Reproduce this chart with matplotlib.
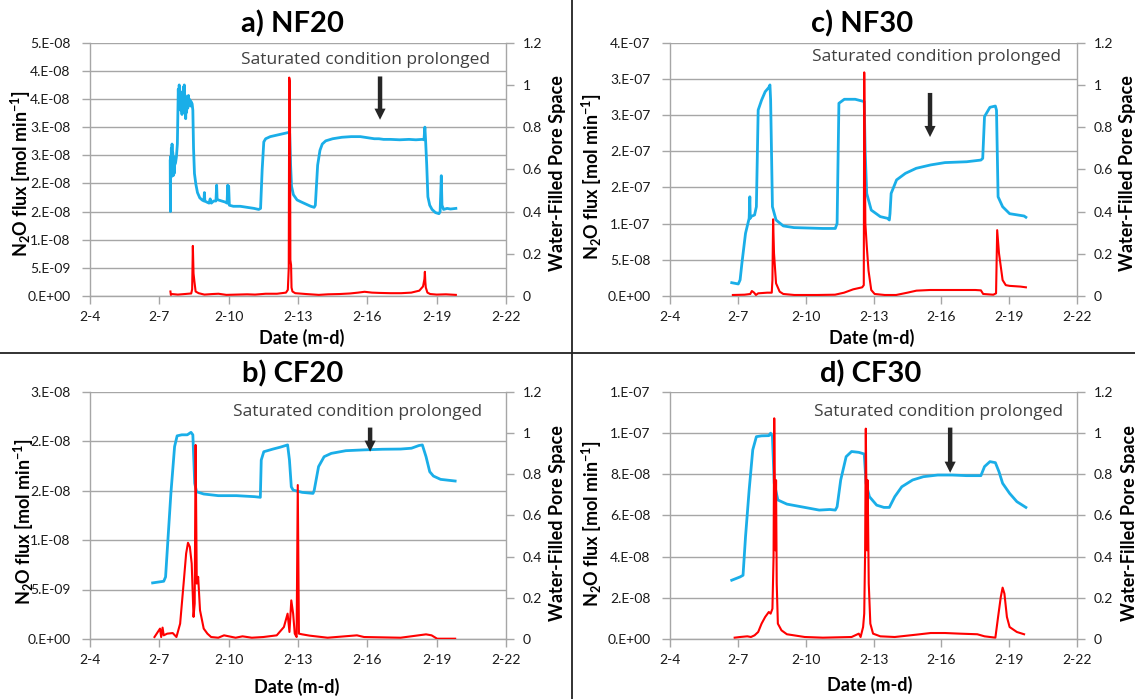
import matplotlib
matplotlib.use("Agg")
import matplotlib.pyplot as plt

plt.rcParams['font.family'] = ['Lato', 'DejaVu Sans']
plt.rcParams['mathtext.fontset'] = 'custom'
plt.rcParams['mathtext.rm'] = 'Lato:bold'
plt.rcParams['mathtext.bf'] = 'Lato:bold'
plt.rcParams['mathtext.it'] = 'Lato:bold:italic'

# ---------------- data (x = day of February) ----------------
date_ticks = [4, 7, 10, 13, 16, 19, 22]
date_labels = ['2-4', '2-7', '2-10', '2-13', '2-16', '2-19', '2-22']
wfps_ticks = [0, 0.2, 0.4, 0.6, 0.8, 1.0, 1.2]
wfps_labels = ['0', '0.2', '0.4', '0.6', '0.8', '1', '1.2']

# a) NF20
nf20_flux_labels = ['0.E+00', '5.E-09', '1.E-08', '2.E-08', '2.E-08',
                    '3.E-08', '3.E-08', '4.E-08', '4.E-08', '5.E-08']
nf20_flux_step = 5e-9
nf20_w_day = [7.47, 7.48, 7.49, 7.50, 7.52, 7.53, 7.55, 7.57, 7.58, 7.60, 7.62, 7.64,
              7.66, 7.70, 7.74, 7.78, 7.80, 7.82, 7.84, 7.86, 7.88, 7.90, 7.92, 7.94,
              7.96, 7.98, 8.00, 8.02, 8.04, 8.06, 8.08, 8.10, 8.12, 8.14, 8.16, 8.18,
              8.20, 8.23, 8.26, 8.29, 8.32, 8.35, 8.38, 8.42, 8.45, 8.48, 8.52, 8.58,
              8.65, 8.75, 8.85, 8.93, 8.95, 8.97, 9.05, 9.15, 9.20, 9.25, 9.35, 9.45,
              9.48, 9.50, 9.55, 9.70, 9.85, 9.93, 9.96, 9.98, 10.00, 10.03, 10.20,
              10.50, 10.80, 11.10, 11.30, 11.38, 11.45, 11.52, 11.60, 11.80, 12.00,
              12.20, 12.40, 12.60, 12.64, 12.68, 12.72, 12.80, 12.96, 13.15, 13.35,
              13.55, 13.70, 13.75, 13.85, 13.95, 14.05, 14.20, 14.50, 14.90, 15.30,
              15.70, 16.00, 16.30, 16.50, 16.70, 17.00, 17.40, 17.80, 18.10, 18.38,
              18.45, 18.49, 18.52, 18.57, 18.62, 18.70, 18.80, 18.95, 19.10, 19.15,
              19.20, 19.23, 19.30, 19.45, 19.60, 19.83]
nf20_wfps = [0.64, 0.40, 0.66, 0.56, 0.70, 0.58, 0.72, 0.60, 0.68, 0.57, 0.66, 0.58,
             0.62, 0.63, 0.66, 0.72, 0.85, 0.98, 0.90, 1.00, 0.92, 0.97, 0.88, 0.95,
             0.90, 0.86, 0.93, 0.88, 0.99, 0.87, 1.00, 0.90, 0.95, 0.84, 0.92, 0.87,
             0.94, 0.89, 0.95, 0.91, 0.93, 0.90, 0.92, 0.91, 0.88, 0.70, 0.58, 0.53,
             0.49, 0.465, 0.455, 0.45, 0.49, 0.45, 0.445, 0.44, 0.46, 0.44, 0.45, 0.45,
             0.525, 0.46, 0.455, 0.45, 0.445, 0.44, 0.525, 0.44, 0.52, 0.43, 0.425,
             0.425, 0.42, 0.415, 0.41, 0.415, 0.60, 0.73, 0.745, 0.755, 0.76,
             0.765, 0.77, 0.775, 0.77, 0.62, 0.52, 0.48, 0.455, 0.445, 0.435,
             0.425, 0.42, 0.43, 0.62, 0.69, 0.72, 0.735, 0.745, 0.752, 0.755,
             0.755, 0.75, 0.745, 0.745, 0.742, 0.742, 0.74, 0.742, 0.74, 0.742,
             0.74, 0.80, 0.74, 0.62, 0.47, 0.43, 0.41, 0.395, 0.39, 0.40,
             0.57, 0.43, 0.41, 0.415, 0.412, 0.415]
nf20_f_day = [7.48, 7.50, 7.53, 7.80, 8.10, 8.38, 8.42, 8.45, 8.48, 8.52, 8.57, 8.70,
              8.95, 9.30, 9.56, 9.90, 10.35, 10.80, 11.14, 11.60, 12.09, 12.48, 12.56,
              12.60, 12.62, 12.65, 12.67, 12.70, 12.72, 12.76, 12.88, 13.35, 13.90,
              14.30, 14.80, 15.25, 15.60, 15.88, 16.20, 16.51, 17.00, 17.46, 17.90,
              18.25, 18.41, 18.47, 18.49, 18.51, 18.53, 18.60, 18.72, 19.00, 19.40, 19.83]
nf20_flux = [0.8e-9, 0.2e-9, 0.35e-9, 0.25e-9, 0.35e-9, 0.45e-9, 1.2e-9, 8.9e-9,
             4.0e-9, 2.5e-9, 0.8e-9, 0.5e-9, 0.25e-9, 0.35e-9, 0.4e-9, 0.2e-9,
             0.25e-9, 0.3e-9, 0.25e-9, 0.4e-9, 0.4e-9, 0.6e-9, 1.1e-9, 5.0e-9,
             38.8e-9, 38.0e-9, 6.4e-9, 5.5e-9, 1.5e-9, 0.8e-9, 0.5e-9, 0.35e-9,
             0.2e-9, 0.3e-9, 0.35e-9, 0.45e-9, 0.6e-9, 0.75e-9, 0.6e-9, 0.55e-9,
             0.5e-9, 0.5e-9, 0.6e-9, 0.95e-9, 1.7e-9, 3.0e-9, 4.3e-9, 2.5e-9,
             1.5e-9, 0.6e-9, 0.35e-9, 0.25e-9, 0.3e-9, 0.2e-9]

# b) CF20
cf20_flux_labels = ['0.E+00', '5.E-09', '1.E-08', '2.E-08', '2.E-08', '3.E-08']
cf20_flux_step = 5e-9
cf20_w_day = [6.71, 7.19, 7.27, 7.38, 7.50, 7.66, 7.77, 7.97, 8.21, 8.37, 8.45, 8.53,
              8.61, 8.92, 9.55, 10.34, 11.13, 11.37, 11.41, 11.52, 11.92, 12.23, 12.55,
              12.63, 12.71, 12.79, 13.18, 13.65, 13.70, 13.89, 14.13, 14.44, 15.07,
              15.86, 16.65, 17.44, 17.91, 18.23, 18.38, 18.54, 18.70, 18.86, 19.17, 19.80]
cf20_wfps = [0.272, 0.280, 0.301, 0.496, 0.706, 0.933, 0.985, 0.99, 0.99, 1.002, 0.99,
             0.755, 0.714, 0.703, 0.695, 0.695, 0.69, 0.687, 0.868, 0.908, 0.921, 0.93,
             0.941, 0.868, 0.738, 0.722, 0.711, 0.706, 0.72, 0.836, 0.884, 0.90, 0.913,
             0.917, 0.92, 0.921, 0.925, 0.938, 0.941, 0.884, 0.811, 0.79, 0.774, 0.766]
cf20_f_day = [6.79, 7.03, 7.08, 7.14, 7.19, 7.34, 7.58, 7.74, 7.90, 8.05, 8.16, 8.24,
              8.32, 8.40, 8.48, 8.53, 8.57, 8.62, 8.68, 8.76, 8.92, 9.08, 9.24, 9.55,
              9.80, 10.30, 10.60, 11.00, 11.50, 12.08, 12.39, 12.55, 12.63, 12.71,
              12.79, 12.86, 12.94, 12.99, 13.04, 13.18, 13.50, 14.28, 15.55, 15.86,
              17.44, 18.54, 18.78, 19.02, 19.80]
cf20_flux = [0.2e-9, 1.05e-9, 0.2e-9, 1.15e-9, 0.37e-9, 0.54e-9, 0.6e-9, 0.2e-9,
             1.55e-9, 5.6e-9, 8.64e-9, 9.72e-9, 9.31e-9, 7.63e-9, 2.23e-9, 3.58e-9,
             19.6e-9, 5.6e-9, 6.28e-9, 2.9e-9, 1.05e-9, 0.54e-9, 0.2e-9, 0.13e-9,
             0.37e-9, 0.13e-9, 0.27e-9, 0.13e-9, 0.2e-9, 0.37e-9, 1.21e-9, 2.56e-9,
             0.71e-9, 3.9e-9, 2.56e-9, 0.54e-9, 0.2e-9, 15.55e-9, 0.54e-9, 0.47e-9,
             0.34e-9, 0.13e-9, 0.37e-9, 0.2e-9, 0.13e-9, 0.47e-9, 0.37e-9, 0.03e-9,
             0.03e-9]

# c) NF30
nf30_flux_labels = ['0.E+00', '5.E-08', '1.E-07', '2.E-07', '2.E-07',
                    '3.E-07', '3.E-07', '4.E-07']
nf30_flux_step = 5e-8
nf30_w_day = [6.73, 7.02, 7.10, 7.18, 7.34, 7.50, 7.53, 7.55, 7.58, 7.74, 7.82, 7.90,
              8.05, 8.21, 8.37, 8.42, 8.45, 8.53, 8.69, 9.01, 9.48, 10.76, 11.31, 11.39,
              11.47, 11.71, 12.19, 12.59, 12.63, 12.70, 12.90, 13.30, 13.62, 13.70,
              13.73, 13.78, 14.02, 14.41, 14.89, 15.53, 16.16, 17.12, 17.75, 17.83,
              17.91, 18.15, 18.39, 18.44, 18.51, 18.71, 19.02, 19.66, 19.74]
nf30_wfps = [0.063, 0.057, 0.076, 0.155, 0.297, 0.368, 0.47, 0.368, 0.376, 0.384,
             0.423, 0.881, 0.928, 0.968, 0.988, 1.0, 0.93, 0.423, 0.36, 0.332, 0.324,
             0.32, 0.32, 0.344, 0.913, 0.932, 0.932, 0.921, 0.69, 0.486, 0.407, 0.376,
             0.368, 0.36, 0.39, 0.486, 0.55, 0.581, 0.605, 0.621, 0.632, 0.636, 0.644,
             0.652, 0.85, 0.894, 0.90, 0.88, 0.47, 0.423, 0.39, 0.379, 0.373]
nf30_f_day = [6.78, 7.30, 7.55, 7.62, 7.72, 7.80, 7.90, 8.30, 8.50, 8.53, 8.56, 8.60,
              8.69, 8.85, 9.01, 9.50, 10.50, 11.30, 11.70, 12.10, 12.50, 12.57, 12.59,
              12.61, 12.64, 12.70, 12.78, 12.90, 13.05, 13.50, 14.00, 14.50, 14.90,
              15.50, 16.50, 17.50, 17.75, 17.85, 18.30, 18.42, 18.47, 18.55, 18.71,
              18.85, 19.02, 19.50, 19.74]
nf30_flux = [1.4e-9, 1.8e-9, 2.8e-9, 6.9e-9, 4.6e-9, 1.4e-9, 3.7e-9, 4.6e-9, 4.6e-9,
             2.2e-8, 1.06e-7, 5.9e-8, 1.75e-8, 6e-9, 2.8e-9, 1.4e-9, 1.4e-9, 1.8e-9,
             4.6e-9, 9.2e-9, 1.2e-8, 1.5e-8, 3.09e-7, 2.2e-7, 1.0e-7, 7.0e-8, 3.5e-8,
             8.3e-9, 2.8e-9, 1.4e-9, 1.4e-9, 4.6e-9, 7.4e-9, 8.3e-9, 8.3e-9, 8.3e-9,
             7.8e-9, 2.8e-9, 1.8e-9, 3.7e-9, 9.1e-8, 5.9e-8, 2.2e-8, 1.5e-8, 1.4e-8,
             1.3e-8, 1.2e-8]

# d) CF30
cf30_flux_labels = ['0.E+00', '2.E-08', '4.E-08', '6.E-08', '8.E-08', '1.E-07', '1.E-07']
cf30_flux_step = 2e-8
cf30_w_day = [6.73, 7.10, 7.23, 7.34, 7.50, 7.66, 7.82, 8.05, 8.37, 8.45, 8.53, 8.61,
              8.77, 9.17, 9.96, 10.60, 11.07, 11.31, 11.39, 11.55, 11.79, 12.03, 12.35,
              12.59, 12.67, 12.82, 13.14, 13.46, 13.70, 13.94, 14.25, 14.73, 15.21,
              15.84, 16.48, 17.12, 17.75, 17.91, 18.15, 18.39, 18.55, 18.71, 19.02,
              19.34, 19.74]
cf30_wfps = [0.285, 0.301, 0.309, 0.496, 0.722, 0.917, 0.981, 0.985, 0.986, 0.998,
             0.981, 0.755, 0.674, 0.654, 0.638, 0.625, 0.628, 0.625, 0.641, 0.771,
             0.884, 0.909, 0.905, 0.897, 0.755, 0.69, 0.649, 0.638, 0.638, 0.69,
             0.738, 0.771, 0.787, 0.795, 0.795, 0.792, 0.792, 0.836, 0.86, 0.855,
             0.811, 0.755, 0.706, 0.666, 0.638]
cf30_f_day = [6.86, 7.10, 7.42, 7.58, 7.74, 7.90, 8.05, 8.21, 8.37, 8.45, 8.53, 8.58,
              8.61, 8.66, 8.69, 8.72, 8.77, 8.93, 9.17, 9.96, 10.76, 12.03, 12.35,
              12.43, 12.54, 12.59, 12.63, 12.66, 12.71, 12.74, 12.79, 12.86, 12.98,
              13.30, 13.94, 14.89, 15.53, 16.16, 16.80, 17.59, 17.91, 18.39, 18.51,
              18.63, 18.71, 18.79, 18.90, 19.02, 19.34, 19.66]
cf30_flux = [0.65e-9, 0.97e-9, 1.3e-9, 0.97e-9, 1.78e-9, 3.4e-9, 7.45e-9, 1.07e-8,
             1.31e-8, 1.23e-8, 1.47e-8, 3.98e-8, 1.07e-7, 4.3e-8, 7.7e-8, 2.69e-8,
             7.45e-9, 4.2e-9, 2.3e-9, 0.97e-9, 0.65e-9, 0.97e-9, 2.6e-9, 0.97e-9,
             5.8e-9, 1.23e-8, 4.3e-8, 1.02e-7, 4.3e-8, 7.7e-8, 2.69e-8, 7.45e-9,
             2.6e-9, 1.3e-9, 0.97e-9, 2.1e-9, 2.9e-9, 2.9e-9, 2.6e-9, 2.3e-9, 1.3e-9,
             0.65e-9, 1.07e-8, 2.04e-8, 2.49e-8, 2.2e-8, 1.07e-8, 5.8e-9, 3.4e-9,
             2.3e-9]

# ---------------- drawing ----------------
W, H = 1135, 699
fig = plt.figure(figsize=(W / 100, H / 100), dpi=100)

GRID = '#a6a6a6'
BLUE = '#1aaee8'
RED = '#ff0000'
TXT = '#1a1a1a'

panels = [
    dict(title='a) NF20', box=(90, 42.7, 506, 296),
         fday=nf20_f_day, flux=nf20_flux, wday=nf20_w_day, wfps=nf20_wfps,
         flabels=nf20_flux_labels, fstep=nf20_flux_step,
         title_xy=(292, 24), ylab_xy=(21, 174), rlab_xy=(558, 173), xlab_xy=(302, 338),
         note=(21.3, 1.12), arrow=(16.55, 1.04, 0.835)),
    dict(title='c) NF30', box=(670, 42.7, 1077, 296),
         fday=nf30_f_day, flux=nf30_flux, wday=nf30_w_day, wfps=nf30_wfps,
         flabels=nf30_flux_labels, fstep=nf30_flux_step,
         title_xy=(862, 24), ylab_xy=(592, 177), rlab_xy=(1128, 173), xlab_xy=(872, 338),
         note=(21.3, 1.133), arrow=(15.5, 0.962, 0.753)),
    dict(title='b) CF20', box=(90, 391.5, 506, 639),
         fday=cf20_f_day, flux=cf20_flux, wday=cf20_w_day, wfps=cf20_wfps,
         flabels=cf20_flux_labels, fstep=cf20_flux_step,
         title_xy=(293, 374), ylab_xy=(24, 522), rlab_xy=(558, 523), xlab_xy=(297, 687),
         note=(20.97, 1.10), arrow=(16.12, 1.025, 0.908)),
    dict(title='d) CF30', box=(670, 391.5, 1077, 639),
         fday=cf30_f_day, flux=cf30_flux, wday=cf30_w_day, wfps=cf30_wfps,
         flabels=cf30_flux_labels, fstep=cf30_flux_step,
         title_xy=(871, 374), ylab_xy=(592, 524), rlab_xy=(1130, 523), xlab_xy=(870, 685),
         note=(21.39, 1.10), arrow=(16.39, 1.025, 0.806)),
]


def fx(px):
    return px / W


def fy(py):
    return 1 - py / H


for p in panels:
    l, t, r, b = p['box']
    ax = fig.add_axes([fx(l), fy(b), (r - l) / W, (b - t) / H])
    ymax = p['fstep'] * (len(p['flabels']) - 1)
    fticks = [i * p['fstep'] for i in range(len(p['flabels']))]

    # left axis: N2O flux scale + gridlines
    ax.set_xlim(date_ticks[0], date_ticks[-1])
    ax.set_ylim(0, ymax)
    ax.set_yticks(fticks)
    ax.set_yticklabels(p['flabels'])
    ax.set_xticks(date_ticks)
    ax.set_xticklabels(date_labels)
    ax.grid(axis='y', color=GRID, lw=1.0)
    ax.set_axisbelow(True)
    for s in ['top', 'right']:
        ax.spines[s].set_visible(False)
    for s in ['left', 'bottom']:
        ax.spines[s].set_color(GRID)
        ax.spines[s].set_linewidth(1.0)
    ax.tick_params(axis='y', direction='out', length=6, width=1.0, color=GRID,
                   labelsize=10, labelcolor=TXT, pad=8)
    ax.tick_params(axis='x', direction='out', length=6, width=1.0, color=GRID,
                   labelsize=10, labelcolor=TXT, pad=5)

    # right axis: water-filled pore space
    ax2 = ax.twinx()
    ax2.set_ylim(0, 1.2)
    ax2.set_yticks(wfps_ticks)
    ax2.set_yticklabels(wfps_labels)
    for s in ['top', 'left', 'bottom']:
        ax2.spines[s].set_visible(False)
    ax2.spines['right'].set_color(GRID)
    ax2.spines['right'].set_linewidth(1.0)
    ax2.tick_params(axis='y', direction='out', length=6, width=1.0, color=GRID,
                    labelsize=10, labelcolor=TXT, pad=6)
    ax2.plot(p['wday'], p['wfps'], color=BLUE, lw=2.0, solid_joinstyle='round')

    # flux series drawn on top of the WFPS curve
    ax3 = ax.twinx()
    ax3.set_ylim(0, ymax)
    ax3.axis('off')
    ax3.plot(p['fday'], p['flux'], color=RED, lw=1.5, solid_joinstyle='round')

    # annotation + arrow
    nx, ny = p['note']
    ax2.text(nx, ny, 'Saturated condition prolonged', ha='right', va='center',
             fontsize=12.5, color='#404040', family=['Open Sans', 'DejaVu Sans'])
    axx, ay0, ay1 = p['arrow']
    ax2.annotate('', xy=(axx, ay1), xytext=(axx, ay0),
                 arrowprops=dict(arrowstyle='simple,head_width=0.5,head_length=0.5,tail_width=0.2',
                                 fc='#262626', ec='none', mutation_scale=16,
                                 shrinkA=0, shrinkB=0))

    # labels
    fig.text(fx(p['title_xy'][0]), fy(p['title_xy'][1]), p['title'], ha='center',
             va='center', fontsize=21, fontweight='bold', color='black')
    fig.text(fx(p['ylab_xy'][0]), fy(p['ylab_xy'][1]),
             r'N$_\mathrm{2}$O flux [mol min$^\mathrm{-1}$]', rotation=90,
             ha='center', va='center', fontsize=13, fontweight='bold', color='black')
    fig.text(fx(p['rlab_xy'][0]), fy(p['rlab_xy'][1]), 'Water-Filled Pore Space',
             rotation=90, ha='center', va='center', fontsize=13, fontweight='bold',
             color='black')
    fig.text(fx(p['xlab_xy'][0]), fy(p['xlab_xy'][1]), 'Date (m-d)', ha='center',
             va='center', fontsize=13, fontweight='bold', color='black')

# quadrant dividers
fig.add_artist(plt.Line2D([fx(572), fx(572)], [0, 1], color='#222222', lw=1.3,
                          transform=fig.transFigure))
fig.add_artist(plt.Line2D([0, 1], [fy(353), fy(353)], color='#222222', lw=1.3,
                          transform=fig.transFigure))

fig.savefig('out.png', dpi=100, facecolor='white')
